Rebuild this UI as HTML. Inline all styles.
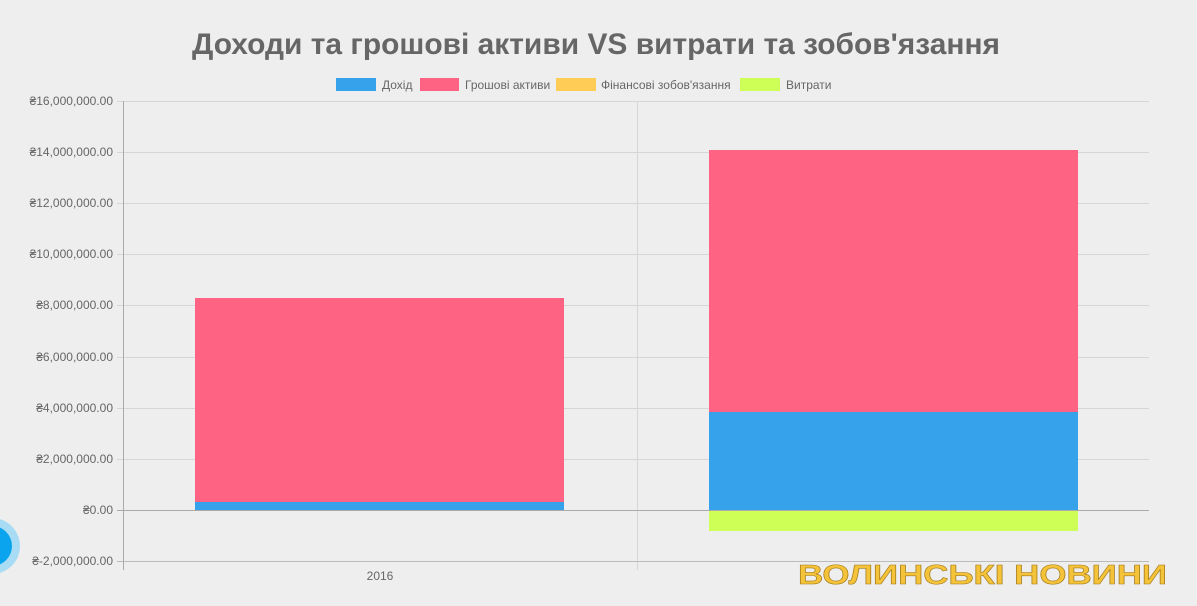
<!DOCTYPE html>
<html><head><meta charset="utf-8"><style>
body{margin:0;background:#eeeeee;}
svg{display:block;font-family:"Liberation Sans",Arial,sans-serif;}
</style></head><body>
<svg width="1197" height="606" viewBox="0 0 1197 606">
<rect width="1197" height="606" fill="#eeeeee"/>
<text x="596" y="54" text-anchor="middle" font-size="30" font-weight="bold" fill="#666" textLength="808" lengthAdjust="spacingAndGlyphs">Доходи та грошові активи VS витрати та зобов'язання</text>
<g font-size="12" fill="#666">
<rect x="336" y="78" width="40" height="13" fill="#36a2eb"/><text x="382" y="89">Дохід</text>
<rect x="420" y="78" width="39" height="13" fill="#ff6384"/><text x="465" y="89">Грошові активи</text>
<rect x="556" y="78" width="40" height="13" fill="#ffcd56"/><text x="601" y="89">Фінансові зобов'язання</text>
<rect x="740" y="78" width="40" height="13" fill="#cdff56"/><text x="786" y="89">Витрати</text>
</g>
<g stroke="#d6d6d6" stroke-width="1">
<line x1="117" y1="101.5" x2="1149" y2="101.5"/>
<line x1="117" y1="152.5" x2="1149" y2="152.5"/>
<line x1="117" y1="203.5" x2="1149" y2="203.5"/>
<line x1="117" y1="254.5" x2="1149" y2="254.5"/>
<line x1="117" y1="305.5" x2="1149" y2="305.5"/>
<line x1="117" y1="357.5" x2="1149" y2="357.5"/>
<line x1="117" y1="408.5" x2="1149" y2="408.5"/>
<line x1="117" y1="459.5" x2="1149" y2="459.5"/>
<line x1="637.5" y1="101" x2="637.5" y2="570"/>
</g>
<line x1="117" y1="510.5" x2="1149" y2="510.5" stroke="#aaa"/>
<line x1="117" y1="561.5" x2="1149" y2="561.5" stroke="#bbb"/>
<line x1="123.5" y1="101" x2="123.5" y2="570" stroke="#aaa"/>
<g font-size="12" fill="#666" text-anchor="end">
<text x="113" y="105">₴16,000,000.00</text>
<text x="113" y="156">₴14,000,000.00</text>
<text x="113" y="207">₴12,000,000.00</text>
<text x="113" y="258">₴10,000,000.00</text>
<text x="113" y="309">₴8,000,000.00</text>
<text x="113" y="361">₴6,000,000.00</text>
<text x="113" y="412">₴4,000,000.00</text>
<text x="113" y="463">₴2,000,000.00</text>
<text x="113" y="514">₴0.00</text>
<text x="113" y="565">₴-2,000,000.00</text>
</g>
<text x="380" y="580" font-size="12" fill="#666" text-anchor="middle">2016</text>
<rect x="195" y="298" width="369" height="204" fill="#ff6384"/>
<rect x="195" y="502" width="369" height="8" fill="#36a2eb"/>
<rect x="709" y="150" width="369" height="262" fill="#ff6384"/>
<rect x="709" y="412" width="369" height="98" fill="#36a2eb"/>
<rect x="709" y="511" width="369" height="20" fill="#cdff56"/>
<circle cx="-8" cy="546" r="28" fill="#a8dcf5"/>
<circle cx="-8" cy="546" r="20" fill="#0aa4ee"/>
<text x="798" y="584" font-size="28" font-weight="bold" fill="#f5c33a" stroke="#a07818" stroke-width="0.6" textLength="369" lengthAdjust="spacingAndGlyphs">ВОЛИНСЬКІ НОВИНИ</text>
</svg>
</body></html>
